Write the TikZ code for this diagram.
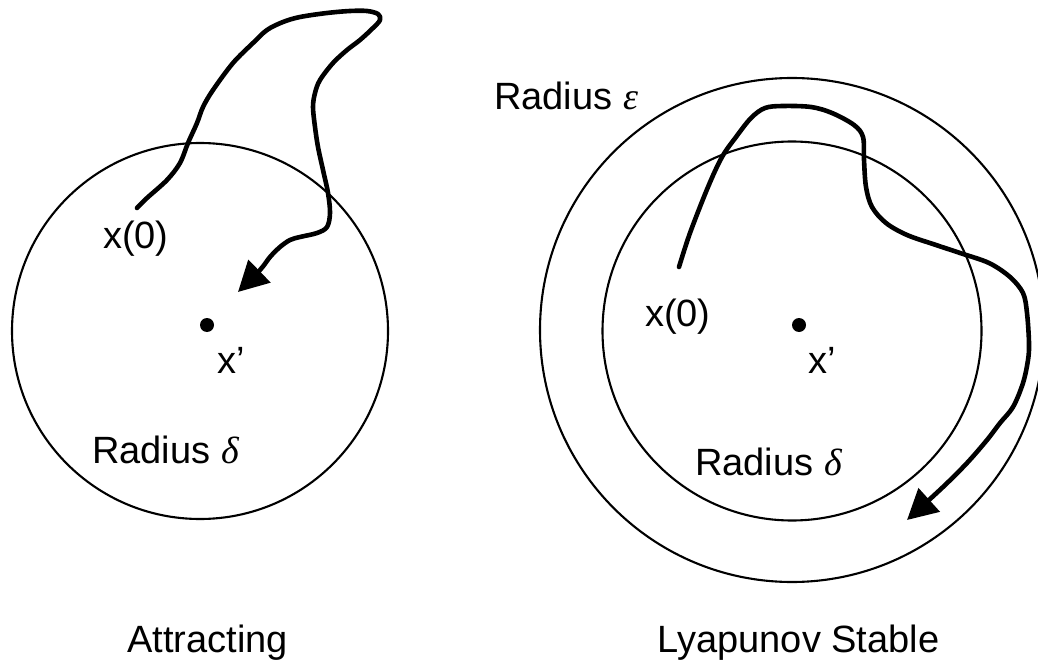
\documentclass[tikz,border=0pt]{standalone}
\usepackage{fontspec}
\setmainfont{Liberation Sans}
\newfontfamily\grk{Liberation Serif}
\usetikzlibrary{arrows.meta}
\begin{document}
\begin{tikzpicture}[x=1pt,y=-1pt,
  ring/.style={line width=2.1pt},
  traj/.style={line width=4.6pt, line cap=round, line join=round,
    -{Triangle[length=30pt,width=31pt]}},
  lbl/.style={inner sep=0pt, font=\fontsize{38}{44}\selectfont},
  eqpt/.style={circle, fill=black, inner sep=0pt, minimum size=14pt}]
\useasboundingbox (0,0) rectangle (1038,660);
\clip (0,0) rectangle (1038,660);
% circles
\draw[ring] (200,331) circle[radius=188pt];
\draw[ring] (792,331) circle[radius=189.5pt];
\draw[ring] (792,330) circle[radius=252pt];
% equilibrium points
\node[eqpt] (pl) at (207,325) {};
\node[eqpt] (pr) at (799,325) {};
% labels
\node[lbl, anchor=base west] (x0l) at (103,248) {x(0)};
\node[lbl, anchor=base west] (xpl) at (217,373) {x’};
\node[lbl, anchor=base west] (rdl) at (92,463) {Radius {\grk\itshape δ}};
\node[lbl, anchor=base] (att) at (207.5,652) {Attracting};
\node[lbl, anchor=base west] (x0r) at (645,326) {x(0)};
\node[lbl, anchor=base west] (xpr) at (808,373) {x’};
\node[lbl, anchor=base west] (rdr) at (695,475) {Radius {\grk\itshape δ}};
\node[lbl, anchor=base west] (rer) at (494,110) {Radius {\grk\itshape ε}};
\node[lbl, anchor=base] (lya) at (798.5,652) {Lyapunov Stable};
% trajectories
\coordinate (sl) at (137,208);
\coordinate (sr) at (679,267);
\draw[traj] plot[smooth, tension=0.55] coordinates {(sl) (147,198) (167,180) (180,163) (188,143) (197,123) (203,107) (213,90) (233,63) (253,43) (267,30) (283,22) (300,17) (327,13) (350,11) (367,11) (378,14) (380,20) (373,28) (360,40) (347,50) (333,63) (320,80) (315,93) (313,107) (315,127) (318,147) (323,170) (328,193) (330,213) (327,227) (317,233) (300,237) (290,240) (280,247) (270,257) (260,270) (238,292)};
\draw[traj] plot[smooth, tension=0.55] coordinates {(sr) (690,233) (708,187) (722,157) (736,137) (751,118) (765,108) (783,106) (811,107) (832,113) (854,125) (863,137) (864,160) (866,187) (872,207) (886,223) (907,235) (936,245) (960,253) (989,263) (1010,277) (1023,293) (1027,313) (1029,343) (1028,360) (1023,383) (1013,407) (1000,423) (987,440) (967,463) (943,487) (907,520)};
\end{tikzpicture}
\end{document}
